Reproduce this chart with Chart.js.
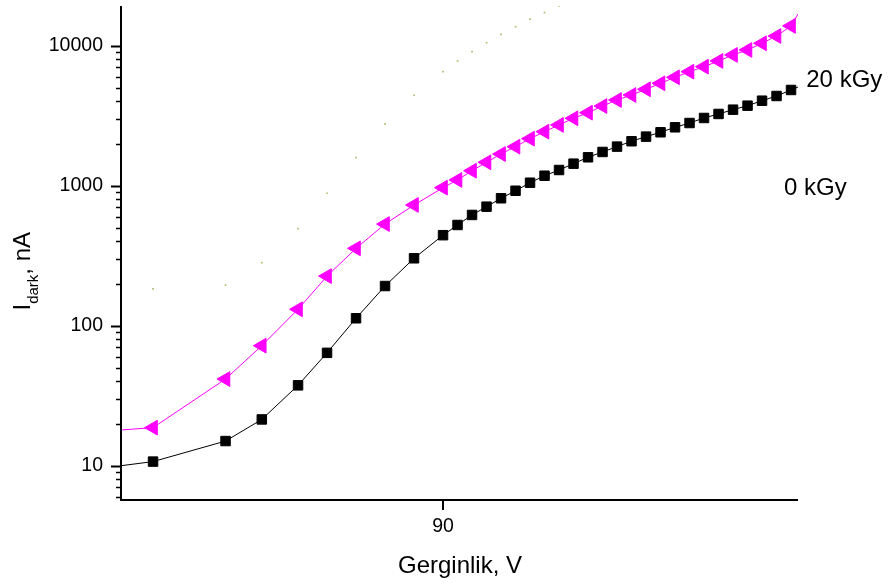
<!DOCTYPE html>
<html>
<head>
<meta charset="utf-8">
<script src="https://cdn.jsdelivr.net/npm/chart.js@4.4.1/dist/chart.umd.min.js"></script>
<style>
  html, body { margin: 0; padding: 0; background: #ffffff; }
  #wrap { width: 889px; height: 584px; }
</style>
</head>
<body>
<div id="wrap"><canvas id="c" width="889" height="584"></canvas></div>
<script>
// Bias voltage (V)
const voltage = [70, 75, 77.5, 80, 82, 84, 86, 88, 90,
  91, 92, 93, 94, 95, 96, 97, 98, 99, 100, 101, 102,
  103, 104, 105, 106, 107, 108, 109, 110, 111, 112, 113, 114];

// Dark current (nA), unirradiated sample
const current0 = [10.7, 15.0, 21.4, 37.5, 64, 113, 192, 303, 443,
  524, 618, 708, 813, 920, 1050, 1178, 1294, 1436, 1595, 1741, 1901,
  2077, 2240, 2407, 2612, 2803, 3045, 3253, 3490, 3727, 4045, 4371, 4826];

// Dark current (nA), after 20 kGy
const current20 = [18.7, 41.6, 72, 131, 226, 357, 532, 728, 968,
  1099, 1279, 1469, 1683, 1900, 2167, 2431, 2716, 3030, 3320, 3706, 4090,
  4443, 4883, 5385, 5945, 6519, 7080, 7776, 8590, 9315, 10400, 11720, 13840];

// Faint auxiliary trace
const traceVoltage = [70, 75, 77.5, 80, 82, 84, 86, 88, 90, 91, 92, 93, 94, 95, 96, 97, 98];
const traceCurrent = [183, 195, 282, 493, 883, 1585, 2762, 4426, 6519, 7776, 9066,
  10505, 12050, 13670, 15450, 17230, 19220];

// Where each curve meets the left and right edges of the frame
const frameVoltage = [67.79, 114.48];
const current0Edges = [10.0, 5070];
const current20Edges = [18.0, 16830];

// Axis ranges and labelled ticks
const xRange = [67.79, 114.48];
const yRange = [5.69, 19200];
const xTickValues = [90];
const yTickValues = [10, 100, 1000, 10000];

// Curve captions and their anchors (voltage, current)
const captionTexts = ['20 kGy', '0 kGy'];
const captionAnchors = [[115.05, 5047], [113.52, 859]];

const FONT = "'Liberation Sans', Arial, Helvetica, sans-serif";

function withEdges(xs, ys, edges) {
  const pts = xs.map((v, i) => ({ x: v, y: ys[i] }));
  return [{ x: frameVoltage[0], y: edges[0] }, ...pts, { x: frameVoltage[1], y: edges[1] }];
}

function markerRadius(r) {
  return (ctx) => {
    const n = ctx.dataset.data.length;
    return (ctx.dataIndex === 0 || ctx.dataIndex === n - 1) ? 0 : r;
  };
}

// Axis frame, tick marks, axis titles and captions
const decorations = {
  id: 'decorations',
  afterDraw(chart) {
    const { ctx, chartArea: a, scales } = chart;
    const xs = scales.x, ys = scales.y;
    ctx.save();
    ctx.strokeStyle = '#000';
    ctx.lineCap = 'butt';

    // y ticks: majors at decades, minors at 2..9
    for (let e = 0; e <= 4; e++) {
      for (let m = 1; m <= 9; m++) {
        const v = m * Math.pow(10, e);
        if (v < yRange[0] || v > yRange[1]) continue;
        const py = Math.round(ys.getPixelForValue(v)) + 0.5;
        const len = m === 1 ? 10 : 5;
        ctx.lineWidth = m === 1 ? 2 : 1.5;
        ctx.beginPath();
        ctx.moveTo(a.left - len, py);
        ctx.lineTo(a.left, py);
        ctx.stroke();
      }
    }
    // x ticks
    xTickValues.forEach(v => {
      const px = Math.round(xs.getPixelForValue(v));
      ctx.lineWidth = 2;
      ctx.beginPath();
      ctx.moveTo(px, a.bottom);
      ctx.lineTo(px, a.bottom + 10);
      ctx.stroke();
    });

    // axis lines
    ctx.lineWidth = 2;
    ctx.beginPath();
    ctx.moveTo(a.left, a.top);
    ctx.lineTo(a.left, a.bottom);
    ctx.lineTo(a.right, a.bottom);
    ctx.stroke();

    ctx.fillStyle = '#000';
    // x title
    ctx.font = `24px ${FONT}`;
    ctx.textAlign = 'center';
    ctx.textBaseline = 'alphabetic';
    ctx.fillText('Gerginlik, V', 460, 573);

    // y title with subscript
    ctx.save();
    ctx.translate(29.5, 310.5);
    ctx.rotate(-Math.PI / 2);
    ctx.textAlign = 'left';
    ctx.font = `24px ${FONT}`;
    ctx.fillText('I', 0, 0);
    let off = ctx.measureText('I').width;
    ctx.font = `15px ${FONT}`;
    ctx.fillText('dark', off, 8.5);
    off += ctx.measureText('dark').width;
    ctx.font = `24px ${FONT}`;
    ctx.fillText(', nA', off, 0);
    ctx.restore();

    // captions
    ctx.font = `24px ${FONT}`;
    ctx.textAlign = 'left';
    captionTexts.forEach((t, i) => {
      const px = xs.getPixelForValue(captionAnchors[i][0]);
      const py = ys.getPixelForValue(captionAnchors[i][1]);
      ctx.fillText(t, px, py);
    });
    ctx.restore();
  }
};

new Chart(document.getElementById('c'), {
  type: 'line',
  data: {
    datasets: [
      {
        label: 'trace',
        data: traceVoltage.map((v, i) => ({ x: v, y: traceCurrent[i] })),
        showLine: false,
        pointStyle: 'rect',
        pointRadius: 1.2,
        pointBorderWidth: 0,
        backgroundColor: '#b9b972',
        borderColor: '#b9b972'
      },
      {
        label: '0 kGy',
        data: withEdges(voltage, current0, current0Edges),
        borderColor: '#000000',
        backgroundColor: '#000000',
        borderWidth: 1,
        tension: 0,
        pointStyle: 'rect',
        pointRadius: markerRadius(6.7),
        pointBorderWidth: 1
      },
      {
        label: '20 kGy',
        data: withEdges(voltage, current20, current20Edges),
        borderColor: '#ff00ff',
        backgroundColor: '#ff00ff',
        borderWidth: 1,
        tension: 0,
        pointStyle: 'triangle',
        rotation: 270,
        pointRadius: markerRadius(8.5),
        pointBorderWidth: 1
      }
    ]
  },
  options: {
    responsive: false,
    animation: false,
    devicePixelRatio: 1,
    layout: { padding: { top: 6, right: 91, bottom: 0, left: 0 } },
    plugins: { legend: { display: false }, tooltip: { enabled: false } },
    scales: {
      x: {
        type: 'linear',
        min: xRange[0],
        max: xRange[1],
        grid: { display: false, drawTicks: false },
        border: { display: false },
        afterBuildTicks: (s) => { s.ticks = xTickValues.map(v => ({ value: v })); },
        afterFit: (s) => {
          s.height = 84;
          s.paddingLeft = 0; s.paddingRight = 0; s.paddingTop = 0; s.paddingBottom = 0;
        },
        ticks: {
          autoSkip: false,
          maxRotation: 0,
          padding: 15,
          color: '#000',
          font: { family: FONT, size: 19.5 },
          callback: (v) => String(v)
        }
      },
      y: {
        type: 'logarithmic',
        min: yRange[0],
        max: yRange[1],
        grid: { display: false, drawTicks: false },
        border: { display: false },
        afterBuildTicks: (s) => { s.ticks = yTickValues.map(v => ({ value: v })); },
        afterFit: (s) => {
          s.width = 121;
          s.paddingLeft = 0; s.paddingRight = 0; s.paddingTop = 0; s.paddingBottom = 0;
        },
        ticks: {
          autoSkip: false,
          padding: 18,
          color: '#000',
          font: { family: FONT, size: 19.5 },
          callback: (v) => String(v)
        }
      }
    }
  },
  plugins: [decorations]
});
</script>
</body>
</html>
